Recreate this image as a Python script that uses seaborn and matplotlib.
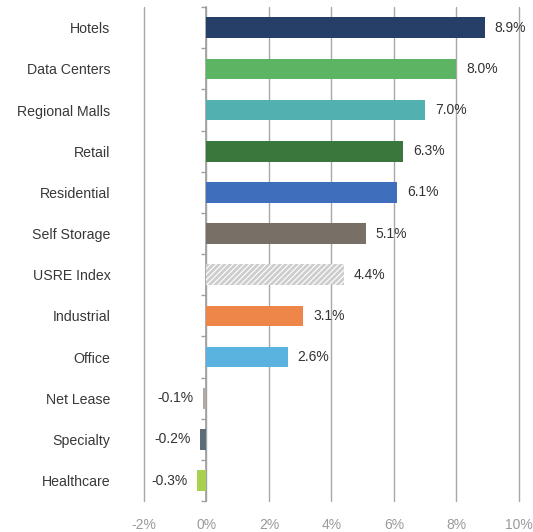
import numpy as np
import pandas as pd
import matplotlib
matplotlib.use("Agg")
import matplotlib.pyplot as plt
import seaborn as sns
from matplotlib.ticker import FixedLocator

sns.set_theme(style="white")
plt.rcParams['font.family'] = ['Liberation Sans', 'DejaVu Sans']
plt.rcParams['hatch.color'] = '#cdcdcd'
plt.rcParams['hatch.linewidth'] = 2.0

categories = ["Hotels", "Data Centers", "Regional Malls", "Retail", "Residential",
              "Self Storage", "USRE Index", "Industrial", "Office", "Net Lease",
              "Specialty", "Healthcare"]
values = [8.9, 8.0, 7.0, 6.3, 6.1, 5.1, 4.4, 3.1, 2.6, -0.1, -0.2, -0.3]
colors = ["#253f69", "#5db563", "#52b0b1", "#3a773c", "#3f6ebd", "#786f66",
          "#ffffff", "#ee8549", "#5ab3de", "#b3aaa3", "#5a6d78", "#a8d14f"]
xticks = [-2, 0, 2, 4, 6, 8, 10]
xticklabels = ["-2%", "0%", "2%", "4%", "6%", "8%", "10%"]

df = pd.DataFrame({"category": categories, "value": values})

fig = plt.figure(figsize=(5.33, 5.32), dpi=100)
ax = fig.add_axes([0.270, 0.058, 0.7036, 0.9286])
ax.set_axisbelow(True)

sns.barplot(data=df, x="value", y="category", hue="category",
            palette=dict(zip(categories, colors)), order=categories,
            legend=False, width=0.5, ax=ax, linewidth=0, saturation=1,
            zorder=3)

# hatch the index bar
for patch, cat in zip(ax.patches, categories):
    if cat == "USRE Index":
        patch.set_hatch("//////")
        patch.set_edgecolor("#cdcdcd")
        patch.set_linewidth(0)

ax.set_xlim(-2, 10)
ax.set_ylim(len(categories) - 0.5, -0.5)
ax.set_xticks(xticks)
ax.set_xticklabels(xticklabels, color="#9a9a9a", fontsize=10)
ax.tick_params(axis="x", length=0, pad=12)

ax.xaxis.grid(True, color="#a8a8a8", linewidth=1.0, zorder=0)
for gl in ax.get_xgridlines():
    gl.set_clip_on(False)
ax.yaxis.grid(False)
ax.set_xlabel("")
ax.set_ylabel("")

for s in ["top", "right", "bottom"]:
    ax.spines[s].set_visible(False)
ax.spines["left"].set_position(("data", 0))
ax.spines["left"].set_color("#a0a0a0")
ax.spines["left"].set_linewidth(1.2)
ax.spines["left"].set_zorder(2)

ax.tick_params(axis="y", which="major", length=0, pad=69, labelsize=10.2,
               labelcolor="#383838")
ax.yaxis.set_minor_locator(FixedLocator(np.arange(-0.5, len(categories), 1.0)))
ax.tick_params(axis="y", which="minor", length=3.5, width=1.0, color="#a0a0a0",
               direction="out", left=True)

for i, v in enumerate(values):
    if v >= 0:
        ax.annotate(f"{v:.1f}%", (v, i), xytext=(7, 0), textcoords="offset points",
                    ha="left", va="center", fontsize=10, color="#333333")
    else:
        ax.annotate(f"{v:.1f}%", (v, i), xytext=(-7, 0), textcoords="offset points",
                    ha="right", va="center", fontsize=10, color="#333333")

fig.savefig("out.png", dpi=100)
